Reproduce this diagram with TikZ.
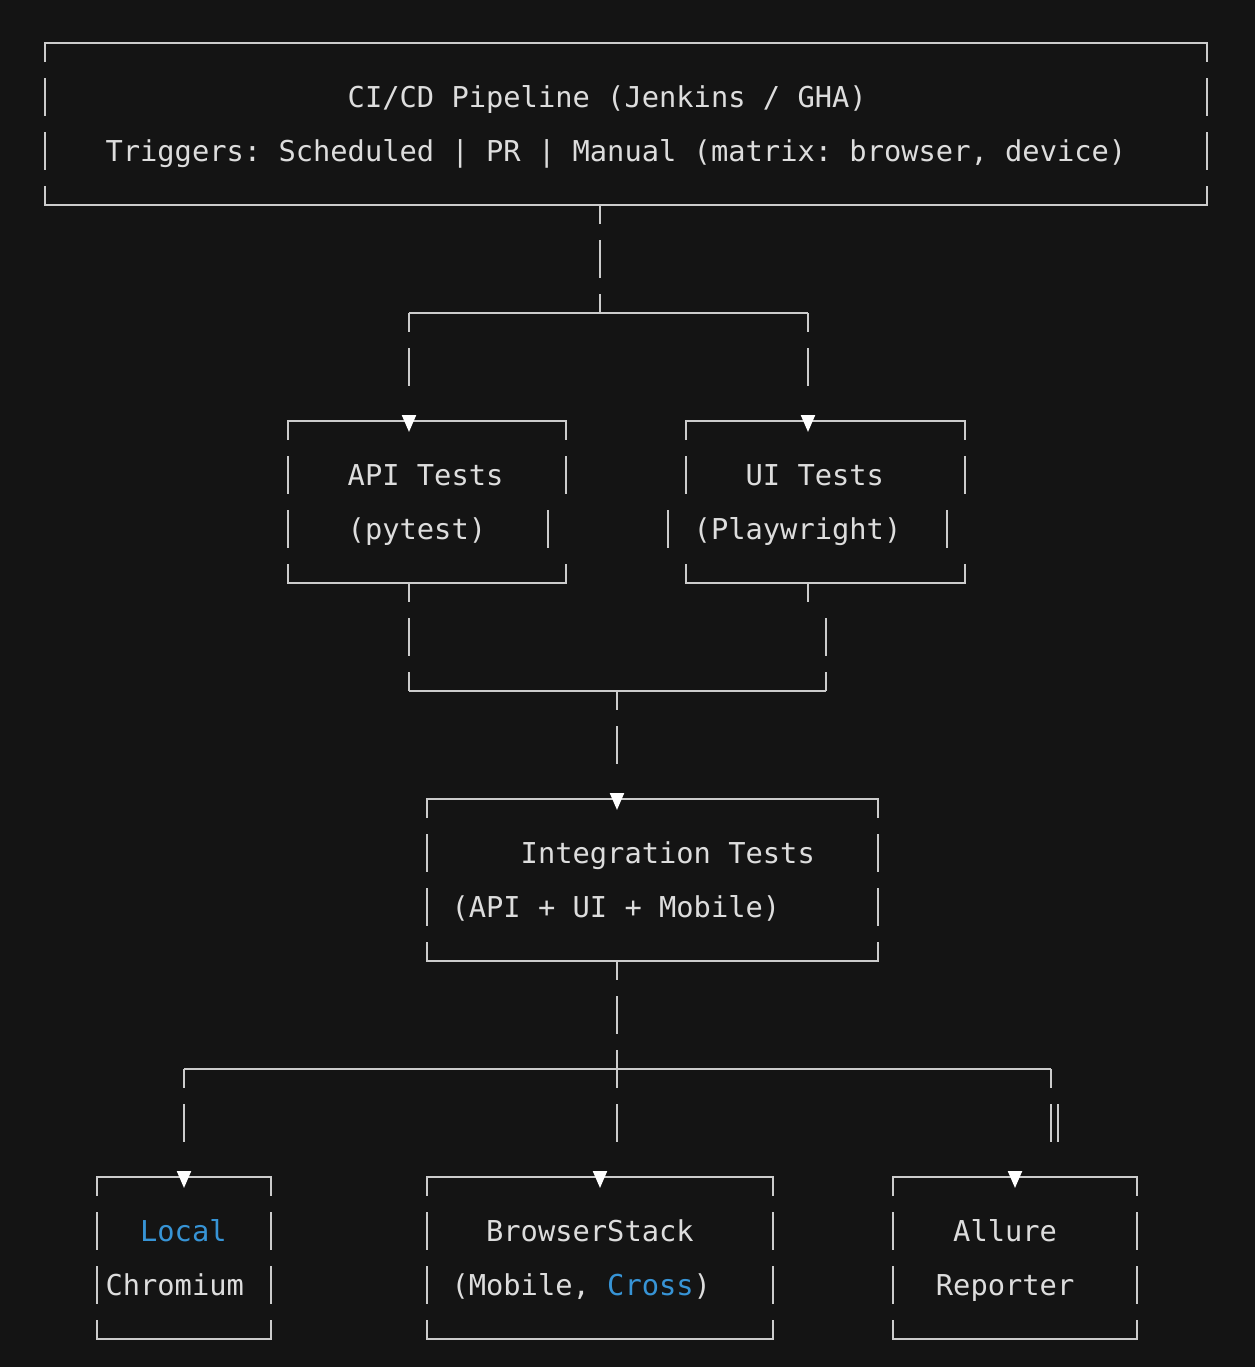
\documentclass[tikz,border=0pt]{standalone}
\usepackage{fontspec}
\newfontfamily\mono{DejaVu Sans Mono}
\usetikzlibrary{arrows.meta}
\definecolor{bg}{HTML}{141414}
\definecolor{fg}{HTML}{DDDDDD}
\definecolor{lnc}{HTML}{CCCCCC}
\definecolor{hl}{HTML}{3794D6}
\frenchspacing
\newcommand\drawframe[3]{%
  \draw[ln] ([yshift=-9.5pt]#1.north west) -- (#1.north west) -- (#1.north east) -- ([yshift=-9.5pt]#1.north east);
  \draw[ln] ([yshift=9.5pt]#1.south west) -- (#1.south west) -- (#1.south east) -- ([yshift=9.5pt]#1.south east);
  \draw[ln] ([yshift=-17.5pt]#1.north west) -- ([yshift=-36.5pt]#1.north west);
  \draw[ln] ([yshift=-17.5pt]#1.north east) -- ([yshift=-36.5pt]#1.north east);
  \draw[ln] ([xshift=#2,yshift=-44.5pt]#1.north west) -- ([xshift=#2,yshift=-63.5pt]#1.north west);
  \draw[ln] ([xshift=#3,yshift=-44.5pt]#1.north east) -- ([xshift=#3,yshift=-63.5pt]#1.north east);
}
\begin{document}
\begin{tikzpicture}[x=0.5pt,y=-0.5pt,
  ln/.style={draw=lnc, line width=1.1pt},
  vdash/.style={dash pattern=on 19pt off 8pt, dash phase=9.5pt},
  feed/.style={dash pattern=on 9.5pt off 8pt on 19pt off 80pt},
  arrowed/.style={-{Triangle[length=8.5pt,width=7pt,color=white]}},
  area/.style={inner sep=0pt, outer sep=0pt, minimum height=81pt},
  txt/.style={inner sep=0pt, outer sep=0pt, anchor=base west, text=fg, font=\mono\fontsize{14.37pt}{17pt}\selectfont\frenchspacing},
]
\fill[bg] (0,0) rectangle (1255,1367);
\useasboundingbox (0,0) rectangle (1255,1367);

% box areas
\node[area, minimum width=581pt]   (ci)     at (626,124)   {};
\node[area, minimum width=139pt]   (api)    at (427,502)   {};
\node[area, minimum width=139.5pt] (ui)     at (825.5,502) {};
\node[area, minimum width=225.5pt] (integ)  at (652.5,880) {};
\node[area, minimum width=87pt]    (local)  at (184,1258)  {};
\node[area, minimum width=173pt]   (bstack) at (600,1258)  {};
\node[area, minimum width=122pt]   (allure) at (1015,1258) {};

\drawframe{ci}{0pt}{0pt}
\drawframe{api}{0pt}{-9pt}
\drawframe{ui}{-9pt}{-9pt}
\drawframe{integ}{0pt}{0pt}
\drawframe{local}{0pt}{0pt}
\drawframe{bstack}{0pt}{0pt}
\drawframe{allure}{0pt}{0pt}

% texts
\node[txt] (t1) at (347.7,107.5) {CI/CD Pipeline (Jenkins / GHA)};
\node[txt] (t2) at (105.5,161.5) {Triggers: Scheduled | PR | Manual (matrix: browser, device)};
\node[txt] (t3) at (347.7,485.5) {API Tests};
\node[txt] (t4) at (347.7,539.5) {(pytest)};
\node[txt] (t5) at (745.6,485.5) {UI Tests};
\node[txt] (t6) at (693.7,539.5) {(Playwright)};
\node[txt] (t7) at (520.7,863.5) {Integration Tests};
\node[txt] (t8) at (451.5,917.5) {(API + UI + Mobile)};
\node[txt] (t9) at (140.1,1241.5) {\textcolor{hl}{Local}};
\node[txt] (t10) at (105.5,1295.5) {Chromium};
\node[txt] (t11) at (486.1,1241.5) {BrowserStack};
\node[txt] (t12) at (451.5,1295.5) {(Mobile, \textcolor{hl}{Cross})};
\node[txt] (t13) at (953.2,1241.5) {Allure};
\node[txt] (t14) at (935.9,1295.5) {Reporter};

% junctions
\coordinate (j1)  at (600,313);
\coordinate (b1l) at (409,313);
\coordinate (b1r) at (808,313);
\coordinate (m1l) at (409,691);
\coordinate (m1r) at (826,691);
\coordinate (j2)  at (617,691);
\coordinate (j3)  at (617,1069);
\coordinate (b3l) at (184,1069);
\coordinate (b3r) at (1051,1069);

% connectors
\draw[ln, vdash] (j1 |- ci.south) -- (j1);
\draw[ln] (b1l) -- (b1r);
\draw[ln, feed, arrowed] (b1l) -- ([yshift=-5.5pt]b1l |- api.north);
\draw[ln, feed, arrowed] (b1r) -- ([yshift=-5.5pt]b1r |- ui.north);

\draw[ln, vdash] (m1l |- api.south) -- (m1l);
\draw[ln] (b1r |- ui.south) -- ([yshift=-9.5pt]b1r |- ui.south);
\draw[ln, dash pattern=on 19pt off 8pt] ([yshift=-17.5pt]m1r |- ui.south) -- (m1r);
\draw[ln] (m1l) -- (m1r);
\draw[ln, feed, arrowed] (j2) -- ([yshift=-5.5pt]j2 |- integ.north);

\draw[ln, vdash] (j3 |- integ.south) -- ([yshift=-36.5pt]j3);
\draw[ln] (b3l) -- (b3r);
\draw[ln, feed, arrowed] (b3l) -- ([yshift=-5.5pt]local.north);
\draw[ln, arrowed] ([yshift=3pt]bstack.north) -- ([yshift=-5.5pt]bstack.north);
\draw[ln] (b3r) -- ([yshift=-9.5pt]b3r);
\draw[ln] ([yshift=-17.5pt]b3r) -- ([yshift=-36.5pt]b3r);
\draw[ln] ([xshift=3.5pt,yshift=-17.5pt]b3r) -- ([xshift=3.5pt,yshift=-36.5pt]b3r);
\draw[ln, arrowed] ([yshift=3pt]allure.north) -- ([yshift=-5.5pt]allure.north);
\end{tikzpicture}
\end{document}
